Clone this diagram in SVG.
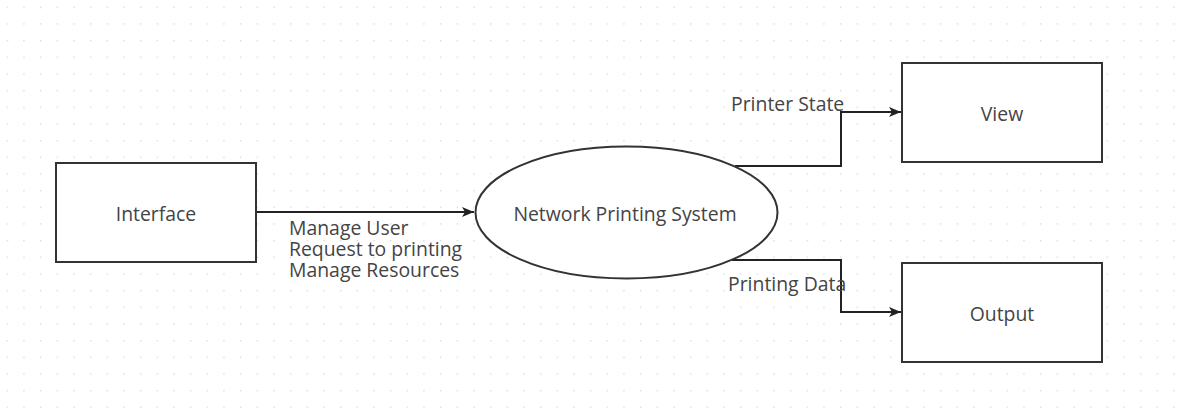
<svg xmlns="http://www.w3.org/2000/svg" width="1186" height="408" viewBox="0 0 1186 408">
  <defs>
    <pattern id="grid" x="6.6" y="6.6" width="16.667" height="16.667" patternUnits="userSpaceOnUse">
      <rect x="0" y="0" width="1.4" height="1.4" fill="#d9d9d9"/>
    </pattern>
    <marker id="arrow" viewBox="0 0 12 10" refX="12" refY="5" markerWidth="12" markerHeight="10" markerUnits="userSpaceOnUse" orient="auto">
      <path d="M0,0 L12,5 L0,10 L3,5 Z" fill="#222"/>
    </marker>
  </defs>
  <style>
    .shape { fill: #fff; stroke: #333; stroke-width: 2; }
    .edge { fill: none; stroke: #222; stroke-width: 2; }
    .label { font-family: "Open Sans", "Liberation Sans", sans-serif; font-size: 19.4px; fill: #444; }
    .center { text-anchor: middle; }
  </style>

  <rect width="1186" height="408" fill="#fff"/>
  <rect width="1186" height="408" fill="url(#grid)"/>

  <g id="connectors">
    <path class="edge" d="M256,212 L474,212" marker-end="url(#arrow)"/>
    <path class="edge" d="M735,166 L841,166 L841,112 L901,112" marker-end="url(#arrow)"/>
    <path class="edge" d="M732,260 L841,260 L841,312 L901,312" marker-end="url(#arrow)"/>
    <text class="label" x="289" y="235">Manage User</text>
    <text class="label" x="289" y="256">Request to printing</text>
    <text class="label" x="289" y="277">Manage Resources</text>
    <text class="label" x="731" y="111">Printer State</text>
    <text class="label" x="728" y="291">Printing Data</text>
  </g>

  <g id="interface">
    <rect class="shape" x="56" y="163" width="200" height="99"/>
    <text class="label center" x="156" y="221">Interface</text>
  </g>

  <g id="network-printing-system">
    <ellipse class="shape" cx="626.5" cy="212.5" rx="151" ry="66"/>
    <text class="label center" x="625" y="221">Network Printing System</text>
  </g>

  <g id="view">
    <rect class="shape" x="902" y="63" width="200" height="99"/>
    <text class="label center" x="1002" y="121">View</text>
  </g>

  <g id="output">
    <rect class="shape" x="902" y="263" width="200" height="99"/>
    <text class="label center" x="1002" y="321">Output</text>
  </g>
</svg>
